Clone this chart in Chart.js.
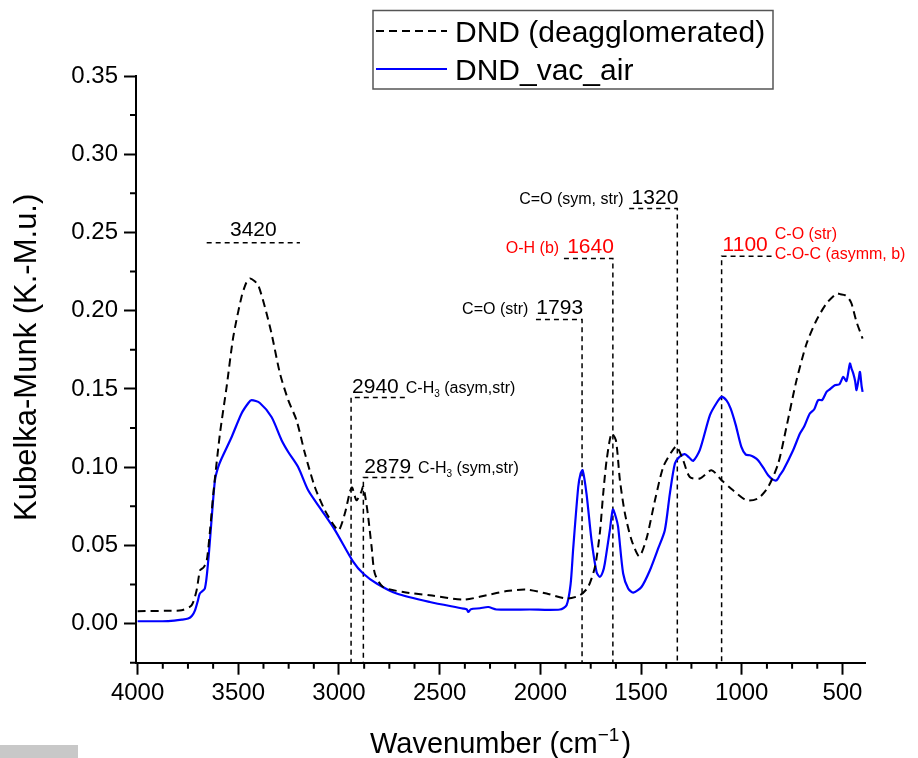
<!DOCTYPE html>
<html>
<head>
<meta charset="utf-8">
<title>DRIFT spectra of DND</title>
<script src="https://cdn.jsdelivr.net/npm/chart.js@4.4.0/dist/chart.umd.min.js"></script>
<style>
  html, body { margin: 0; padding: 0; background: #fff; }
  #wrap { position: relative; width: 918px; height: 758px; }
  #strip { position: absolute; left: 0; top: 745px; width: 78px; height: 13px; background: #c8c8c8; }
</style>
</head>
<body>
<div id="wrap">
  <canvas id="spectra" width="918" height="758"></canvas>
  <div id="strip"></div>
</div>
<script>
const FONT = "'Liberation Sans', Arial, Helvetica, sans-serif";

// DND (deagglomerated) – wavenumber (cm-1) and Kubelka-Munk units
const dndWn = [4000, 3850, 3782, 3732, 3707, 3690, 3672, 3657, 3640, 3624, 3591, 3558, 3525, 3484, 3460, 3442,
  3420, 3401, 3368, 3335, 3293, 3252, 3211, 3169, 3120, 3070, 3020, 3000, 2971, 2946, 2935, 2913, 2890, 2880,
  2868, 2855, 2838, 2822, 2781, 2681, 2549, 2383, 2267, 2168, 2069, 1969, 1870, 1804, 1763, 1729, 1705, 1688,
  1671, 1647, 1625, 1605, 1580, 1547, 1509, 1473, 1431, 1390, 1349, 1324, 1291, 1258, 1208, 1150, 1100, 1043,
  976, 919, 869, 819, 778, 728, 678, 629, 579, 529, 510, 488, 470, 455, 430, 400];
const dndKM = [0.0079, 0.0082, 0.0085, 0.0117, 0.0213, 0.0340, 0.0360, 0.0400, 0.0600, 0.0831, 0.1215, 0.1513,
  0.1832, 0.2088, 0.2180, 0.2206, 0.2190, 0.2163, 0.2024, 0.1854, 0.1598, 0.1428, 0.1300, 0.1087, 0.0873, 0.0724,
  0.0618, 0.0597, 0.0703, 0.0841, 0.0870, 0.0788, 0.0840, 0.0875, 0.0800, 0.0682, 0.0490, 0.0320, 0.0234, 0.0202,
  0.0181, 0.0153, 0.0181, 0.0208, 0.0217, 0.0192, 0.0160, 0.0181, 0.0234, 0.0362, 0.0575, 0.0831, 0.1044, 0.1215,
  0.1172, 0.0916, 0.0703, 0.0533, 0.0430, 0.0543, 0.0788, 0.1001, 0.1097, 0.1133, 0.1044, 0.0937, 0.0927, 0.0980,
  0.0916, 0.0852, 0.0788, 0.0800, 0.0873, 0.1023, 0.1257, 0.1556, 0.1790, 0.1939, 0.2046, 0.2110, 0.2105, 0.2099,
  0.2080, 0.2046, 0.1928, 0.1822];

// DND_vac_air
const vacWn = [4000, 3900, 3848, 3780, 3749, 3730, 3715, 3700, 3691, 3666, 3649, 3633, 3616, 3600, 3583, 3533,
  3484, 3450, 3434, 3393, 3335, 3285, 3252, 3203, 3153, 3086, 3020, 2929, 2880, 2813, 2714, 2549, 2383, 2365,
  2358, 2345, 2300, 2259, 2218, 2052, 1903, 1870, 1850, 1837, 1812, 1800, 1790, 1771, 1746, 1721, 1705, 1690,
  1680, 1655, 1640, 1625, 1614, 1589, 1564, 1539, 1498, 1456, 1415, 1382, 1357, 1332, 1310, 1283, 1260, 1241,
  1208, 1158, 1125, 1100, 1075, 1055, 1030, 1002, 980, 960, 940, 919, 890, 869, 845, 827, 810, 794, 745, 711,
  690, 662, 640, 621, 600, 579, 560, 538, 515, 496, 480, 463, 455, 446, 437, 430, 420, 413, 405, 400];
const vacKM = [0.0015, 0.0015, 0.0016, 0.0025, 0.0032, 0.0050, 0.0085, 0.0150, 0.0192, 0.0224, 0.0405, 0.0660,
  0.0916, 0.1000, 0.1055, 0.1193, 0.1343, 0.1410, 0.1428, 0.1410, 0.1320, 0.1172, 0.1097, 0.1001, 0.0852, 0.0724,
  0.0597, 0.0394, 0.0320, 0.0256, 0.0192, 0.0138, 0.0096, 0.0090, 0.0074, 0.0092, 0.0098, 0.0106, 0.0090, 0.0090,
  0.0090, 0.0117, 0.0250, 0.0480, 0.0873, 0.0960, 0.0980, 0.0831, 0.0533, 0.0330, 0.0298, 0.0330, 0.0384, 0.0597,
  0.0729, 0.0680, 0.0618, 0.0320, 0.0224, 0.0198, 0.0234, 0.0341, 0.0480, 0.0597, 0.0831, 0.1023, 0.1065, 0.1083,
  0.1060, 0.1040, 0.1110, 0.1332, 0.1410, 0.1449, 0.1425, 0.1374, 0.1270, 0.1129, 0.1080, 0.1076, 0.1065, 0.1044,
  0.0990, 0.0948, 0.0920, 0.0916, 0.0950, 0.0980, 0.1108, 0.1215, 0.1260, 0.1343, 0.1370, 0.1428, 0.1430, 0.1481,
  0.1500, 0.1524, 0.1530, 0.1577, 0.1550, 0.1662, 0.1630, 0.1598, 0.1550, 0.1492, 0.1560, 0.1609, 0.1520, 0.1481];

// labelled axis ticks
const wnTicks = [4000, 3500, 3000, 2500, 2000, 1500, 1000, 500];
const kmTicks = [0.00, 0.05, 0.10, 0.15, 0.20, 0.25, 0.30, 0.35];

// band assignments: peak position, height of the label line, where the label line starts
const peakWn = [3420, 2940, 2879, 1793, 1640, 1320, 1100];
const peakLevel = [0.2434, 0.1445, 0.0933, 0.1944, 0.2334, 0.2653, 0.2348];
const peakLineFrom = [3657, 2673, 2631, 2022, 1883, 1559, 852];
const peakLineTo = [3194, 2940, 2879, 1793, 1640, 1320, 1100];
const peakDrop = [false, true, true, true, true, true, true];
const peakNote = ['', 'C-H₃ (asym,str)', 'C-H₃ (sym,str)', 'C=O (str)', 'O-H (b)', 'C=O (sym, str)',
  'C-O (str)\nC-O-C (asymm, b)'];
const peakRed = [false, false, false, false, true, false, true];

const X_MIN = 388, X_MAX = 4008, Y_MIN = -0.025, Y_MAX = 0.35;

function toPoints(xs, ys) {
  return xs.map((x, i) => ({ x: x, y: ys[i] }));
}

const spectraSets = [
  {
    label: 'DND (deagglomerated)',
    data: toPoints(dndWn, dndKM),
    borderColor: '#000000',
    borderWidth: 2,
    borderDash: [8, 5],
    pointRadius: 0,
    tension: 0.25,
    fill: false,
  },
  {
    label: 'DND_vac_air',
    data: toPoints(vacWn, vacKM),
    borderColor: '#0000ff',
    borderWidth: 2.2,
    pointRadius: 0,
    tension: 0.25,
    fill: false,
  },
];

// dashed guide lines for each assigned band
const markerSets = peakWn.map((wn, i) => {
  const pts = [{ x: peakLineFrom[i], y: peakLevel[i] }, { x: peakLineTo[i], y: peakLevel[i] }];
  if (peakDrop[i]) pts.push({ x: wn, y: Y_MIN });
  return {
    label: 'marker ' + wn,
    data: pts,
    borderColor: '#000000',
    borderWidth: 1.5,
    borderDash: [5, 4],
    pointRadius: 0,
    tension: 0,
    fill: false,
  };
});

// minor tick marks (3 per major on x, 1 per major on y)
const minorTicks = {
  id: 'minorTicks',
  afterDraw(chart) {
    const { ctx, scales: { x, y } } = chart;
    ctx.save();
    ctx.strokeStyle = '#000';
    ctx.lineWidth = 2;
    ctx.beginPath();
    for (let v = 125; v <= X_MAX; v += 125) {
      if (v % 500 === 0 || v < X_MIN) continue;
      const px = x.getPixelForValue(v);
      ctx.moveTo(px, y.bottom);
      ctx.lineTo(px, y.bottom + 6);
    }
    for (let k = -1; k <= 14; k += 2) {
      const v = k * 0.025;
      if (v < Y_MIN || v > Y_MAX) continue;
      const py = y.getPixelForValue(v);
      ctx.moveTo(x.left - 6, py);
      ctx.lineTo(x.left, py);
    }
    ctx.stroke();
    ctx.restore();
  },
};

// text with '₃' drawn as a lowered small 3
function drawNote(ctx, text, x, y, align, size) {
  const main = size + 'px ' + FONT;
  const sub = Math.round(size * 0.62) + 'px ' + FONT;
  const parts = text.split('₃');
  ctx.font = main;
  const widths = parts.map(p => ctx.measureText(p).width);
  ctx.font = sub;
  const subW = ctx.measureText('3').width;
  const total = widths.reduce((a, b) => a + b, 0) + subW * (parts.length - 1);
  let cx = align === 'right' ? x - total : x;
  ctx.textAlign = 'left';
  parts.forEach((p, i) => {
    ctx.font = main;
    ctx.fillText(p, cx, y);
    cx += widths[i];
    if (i < parts.length - 1) {
      ctx.font = sub;
      ctx.fillText('3', cx, y + size * 0.28);
      cx += subW;
    }
  });
}

const peakLabels = {
  id: 'peakLabels',
  afterDatasetsDraw(chart) {
    const { ctx, scales: { x, y } } = chart;
    ctx.save();
    ctx.textBaseline = 'alphabetic';
    peakWn.forEach((wn, i) => {
      ctx.fillStyle = peakRed[i] ? '#ff0000' : '#000000';
      const px = x.getPixelForValue(wn);
      const base = y.getPixelForValue(peakLevel[i]) - 5;
      ctx.font = '21px ' + FONT;
      const label = String(wn);
      const numW = ctx.measureText(label).width;
      const lines = peakNote[i] ? peakNote[i].split('\n') : [];
      if (!peakDrop[i]) {
        const mid = (x.getPixelForValue(peakLineFrom[i]) + x.getPixelForValue(peakLineTo[i])) / 2;
        ctx.textAlign = 'center';
        ctx.fillText(label, mid, base - 2);
        return;
      }
      const leftSide = peakLineFrom[i] > wn;
      ctx.textAlign = leftSide ? 'right' : 'left';
      const numX = px + 1;
      ctx.fillText(label, numX, base);
      lines.forEach((line, k) => {
        const dy = lines.length === 1 ? 0 : (k - (lines.length - 1) / 2) * 20 - 2;
        if (leftSide) drawNote(ctx, line, numX - numW - 8, base + dy, 'right', 16);
        else drawNote(ctx, line, numX + numW + 7, base + dy, 'left', 16);
      });
    });
    ctx.restore();
  },
};

// boxed legend in the top margin, built from the two spectra
const boxedLegend = {
  id: 'boxedLegend',
  afterDraw(chart) {
    const { ctx } = chart;
    const sets = chart.data.datasets.slice(0, 2);
    ctx.save();
    ctx.strokeStyle = '#555';
    ctx.lineWidth = 1.5;
    ctx.strokeRect(373, 10.5, 400, 78.5);
    ctx.font = '30px ' + FONT;
    ctx.fillStyle = '#000';
    ctx.textAlign = 'left';
    ctx.textBaseline = 'alphabetic';
    sets.forEach((ds, i) => {
      const ly = 31 + i * 38;
      ctx.beginPath();
      ctx.strokeStyle = ds.borderColor;
      ctx.lineWidth = ds.borderWidth;
      ctx.setLineDash(ds.borderDash || []);
      ctx.moveTo(376, ly);
      ctx.lineTo(447, ly);
      ctx.stroke();
      ctx.setLineDash([]);
      ctx.fillText(ds.label, 455, ly + 11);
    });
    ctx.restore();
  },
};

// axis titles (x title carries a superscript)
const axisTitles = {
  id: 'axisTitles',
  afterDraw(chart) {
    const { ctx, scales: { x, y } } = chart;
    ctx.save();
    ctx.fillStyle = '#000';
    ctx.textBaseline = 'alphabetic';

    ctx.save();
    ctx.translate(36, (y.top + y.bottom) / 2 - 12);
    ctx.rotate(-Math.PI / 2);
    ctx.font = '31px ' + FONT;
    ctx.textAlign = 'center';
    ctx.fillText('Kubelka-Munk (K.-M.u.)', 0, 0);
    ctx.restore();

    const main = '29px ' + FONT;
    const sup = '19px ' + FONT;
    const head = 'Wavenumber (cm', exp = '\u22121', tail = ')';
    ctx.font = main;
    const wHead = ctx.measureText(head).width;
    const wTail = ctx.measureText(tail).width;
    ctx.font = sup;
    const wExp = ctx.measureText(exp).width;
    const total = wHead + wExp + 2 + wTail;
    let cx = (x.left + x.right) / 2 - total / 2;
    const by = 752.5;
    ctx.textAlign = 'left';
    ctx.font = main;
    ctx.fillText(head, cx, by);
    cx += wHead;
    ctx.font = sup;
    ctx.fillText(exp, cx, by - 12);
    cx += wExp + 2;
    ctx.font = main;
    ctx.fillText(tail, cx, by);
    ctx.restore();
  },
};

new Chart(document.getElementById('spectra'), {
  type: 'line',
  data: { datasets: [...spectraSets, ...markerSets] },
  options: {
    responsive: false,
    animation: false,
    layout: { padding: { left: 0, top: 76, right: 53, bottom: 0 } },
    plugins: { legend: { display: false }, tooltip: { enabled: false } },
    scales: {
      x: {
        type: 'linear',
        reverse: true,
        min: X_MIN,
        max: X_MAX,
        afterBuildTicks(scale) { scale.ticks = wnTicks.map(v => ({ value: v })); },
        afterFit(scale) { scale.height = 95.3; },
        border: { display: true, color: '#000', width: 2 },
        grid: { drawOnChartArea: false, drawTicks: true, tickLength: 12, tickWidth: 2, tickColor: '#000' },
        ticks: {
          autoSkip: false,
          maxRotation: 0,
          padding: 4,
          color: '#000',
          font: { size: 24, family: FONT },
          callback: v => String(v),
        },
      },
      y: {
        type: 'linear',
        min: Y_MIN,
        max: Y_MAX,
        afterBuildTicks(scale) { scale.ticks = kmTicks.map(v => ({ value: v })); },
        afterFit(scale) { scale.width = 136; },
        border: { display: true, color: '#000', width: 2 },
        grid: { drawOnChartArea: false, drawTicks: true, tickLength: 12, tickWidth: 2, tickColor: '#000' },
        ticks: {
          autoSkip: false,
          padding: 6,
          color: '#000',
          font: { size: 24, family: FONT },
          callback: v => v.toFixed(2),
        },
      },
    },
  },
  plugins: [minorTicks, peakLabels, boxedLegend, axisTitles],
});
</script>
</body>
</html>
